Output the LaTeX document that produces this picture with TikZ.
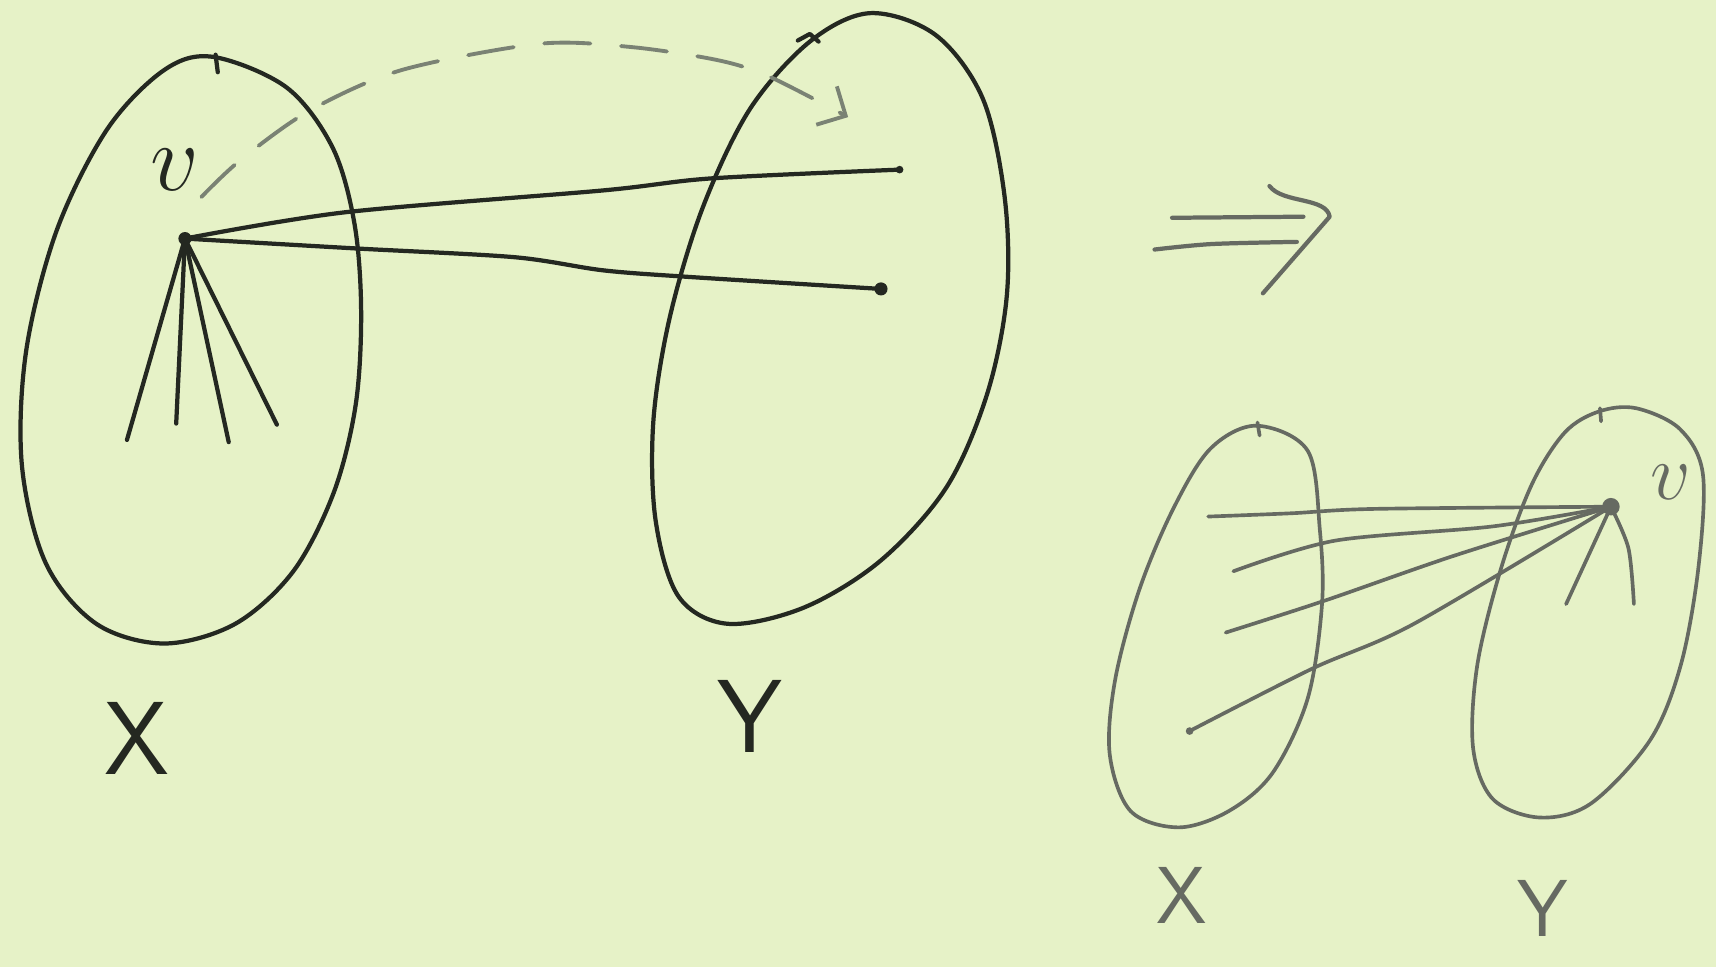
\documentclass[tikz,border=0pt]{standalone}
\usetikzlibrary{arrows.meta}
\definecolor{qbg}{RGB}{230,242,199}
\definecolor{qink}{RGB}{36,40,33}
\definecolor{qgrey}{RGB}{102,106,98}
\definecolor{qdash}{RGB}{122,130,116}

\begin{document}
\begin{tikzpicture}[x=0.01cm, y=-0.01cm, line cap=round, line join=round,
  ink/.style={draw=qink, line width=1.1pt},
  grey/.style={draw=qgrey, line width=0.95pt},
  dot/.style={circle, fill=#1, inner sep=0pt, minimum size=0.12cm},
  lbl/.style={text=#1, inner sep=0pt}]

\useasboundingbox (0,0) rectangle (1568,884);
\fill[qbg] (0,0) rectangle (1568,884);

% left picture: set X
\draw[ink] plot[smooth cycle, tension=0.55] coordinates {(195,52) (262,80) (304,135) (324,205) (330,285) (325,370) (305,450) (268,522) (215,570) (150,588) (88,570) (42,515) (20,425) (24,320) (52,210) (98,118) (150,64)};
\draw[ink] (197,50) -- (199,66);

% set Y
\draw[ink] plot[smooth cycle, tension=0.55] coordinates {(795,12) (855,32) (898,90) (918,180) (920,270) (902,360) (865,445) (805,512) (735,555) (665,570) (620,545) (599,475) (597,385) (612,290) (642,190) (685,100) (740,38)};
\draw[ink] (729,37) -- (740,31) -- (748,38);

\node[dot=qink] (v) at (169,218) {};
\node[lbl=qink, font=\fontsize{26}{30}\selectfont] (labv) at (160,155) {$v$};
\node[lbl=qink, font=\fontsize{27}{30}\selectfont\sffamily] (labX) at (125,675) {X};
\node[lbl=qink, font=\fontsize{27}{30}\selectfont\sffamily] (labY) at (685,655) {Y};

% edges inside X
\foreach \i/\p in {1/{116,402}, 2/{161,387}, 3/{209,404}, 4/{253,388}}
  \coordinate (d\i) at (\p);
\foreach \i in {1,...,4}
  \draw[ink] (v.center) -- (d\i);

% edges into Y
\node[dot=qink, minimum size=0.07cm] (y1) at (822,155) {};
\node[dot=qink] (y2) at (805,264) {};
\draw[ink] plot[smooth] coordinates {(v.center) (315,194) (551,174) (650,163) (y1.center)};
\draw[ink] plot[smooth] coordinates {(v.center) (325,227) (470,235) (551,247) (629,253) (y2.center)};

% dashed move of v
\coordinate (d0) at (184,180);
\coordinate (dY) at (775,107);
\draw[qdash, line width=1pt, dash pattern=on 12pt off 8pt, -{Straight Barb[angle=90:8pt]}]
  plot[smooth] coordinates {(d0) (220,146) (283,101) (367,64) (493,40) (577,43) (656,55) (703,70) (dY)};

% implies
\draw[qgrey, line width=1.1pt] (1071,199) -- (1191,198);
\draw[qgrey, line width=1.1pt] plot[smooth] coordinates {(1055,228) (1107,223) (1185,221)};
\draw[qgrey, line width=1.1pt] (1160,170) .. controls (1172,186) and (1212,180) .. (1215,198) -- (1154,268);

% right picture: small X
\draw[grey] plot[smooth cycle, tension=0.55] coordinates {(1148,389) (1195,412) (1206,484) (1208,552) (1195,638) (1163,706) (1123,741) (1077,756) (1033,741) (1014,689) (1019,621) (1041,539) (1072,465) (1106,410)};
\draw[grey] (1149,386) -- (1151,398);

% small Y
\draw[grey] plot[smooth cycle, tension=0.55] coordinates {(1461,376) (1495,373) (1535,392) (1556,433) (1552,518) (1536,607) (1508,676) (1454,734) (1407,747) (1364,730) (1346,683) (1350,607) (1372,518) (1400,442) (1430,395)};
\draw[grey] (1462,373) -- (1463,385);

\node[dot=qgrey, minimum size=0.16cm] (w) at (1472,463) {};
\node[lbl=qgrey, font=\fontsize{20}{24}\selectfont] (labw) at (1527,441) {$v$};
\node[lbl=qgrey, font=\fontsize{21}{24}\selectfont\sffamily] (labx) at (1080,818) {X};
\node[lbl=qgrey, font=\fontsize{21}{24}\selectfont\sffamily] (laby) at (1410,830) {Y};

% edges from X to w
\coordinate (x1) at (1104,472);
\coordinate (x2) at (1127,522);
\coordinate (x3) at (1120,578);
\node[dot=qgrey, minimum size=0.07cm] (x4) at (1087,668) {};
\foreach \m/\n/\e in {{1256,465}/{1180,469}/x1, {1364,481}/{1220,494}/x2, {1328,508}/{1210,549}/x3, {1292,570}/{1199,611}/x4}
  \draw[grey] plot[smooth] coordinates {(w.center) (\m) (\n) (\e)};

% edges inside Y
\coordinate (w1) at (1431,552);
\coordinate (w2) at (1493,552);
\draw[grey] (w.center) -- (w1);
\draw[grey] plot[smooth] coordinates {(w.center) (1488,501) (w2)};

\end{tikzpicture}
\end{document}
